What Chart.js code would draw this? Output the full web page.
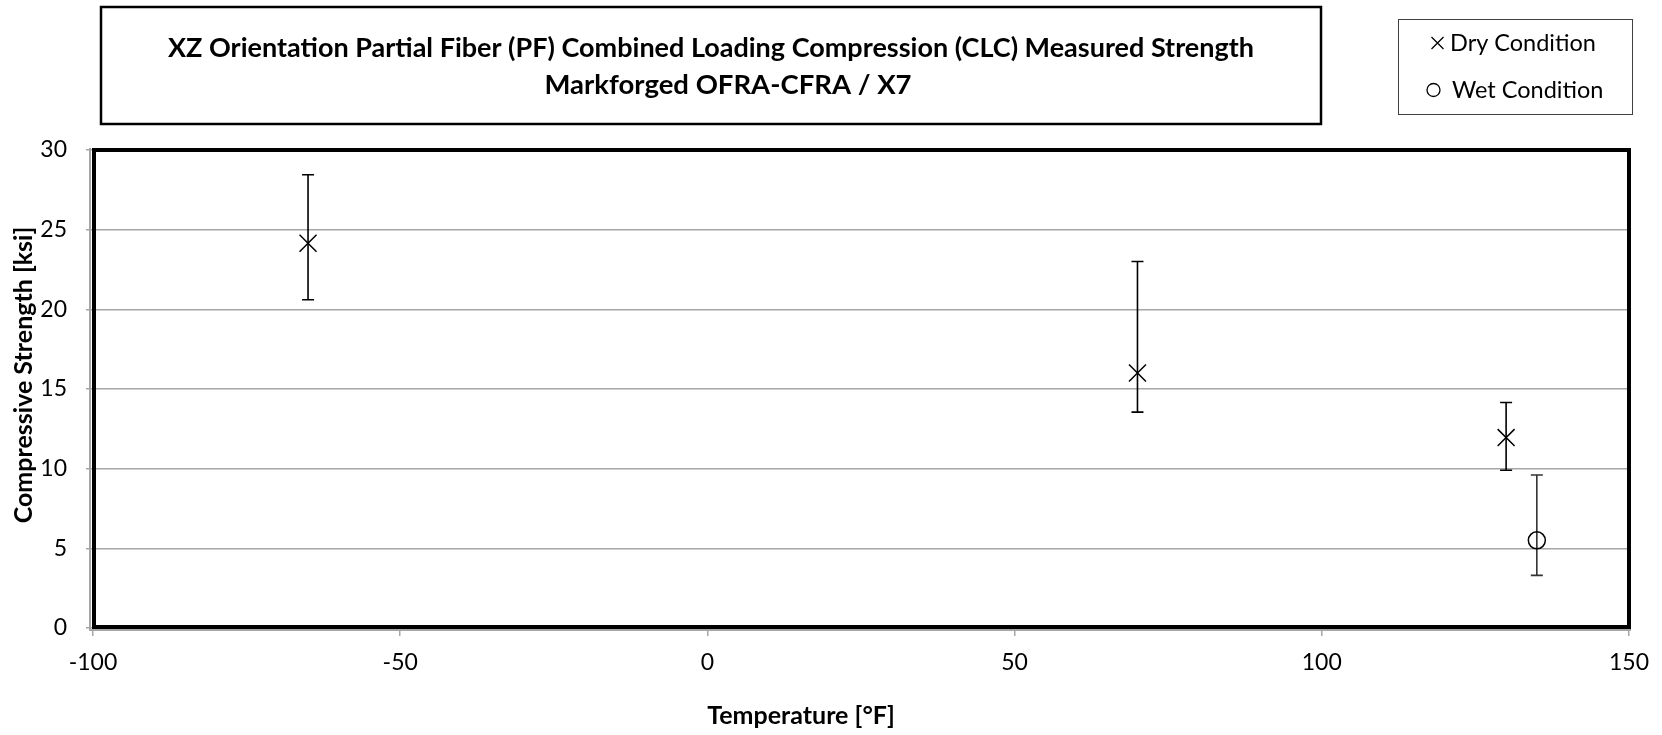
<!DOCTYPE html>
<html>
<head>
<meta charset="utf-8">
<script src="https://cdn.jsdelivr.net/npm/chart.js@4.4.1/dist/chart.umd.min.js"></script>
<style>
  body { margin: 0; background: #fff; }
  #wrap { width: 1662px; height: 735px; position: relative; }
</style>
</head>
<body>
<div id="wrap"><canvas id="chart"></canvas></div>
<script>
// chart text
const titleLines = [
  "XZ Orientation Partial Fiber (PF) Combined Loading Compression (CLC) Measured Strength",
  "Markforged OFRA-CFRA / X7"
];
const seriesNames = ["Dry Condition", "Wet Condition"];
const xTitle = "Temperature [°F]";
const yTitle = "Compressive Strength [ksi]";

// dry condition: temperature, mean strength, error bar ends
const dryTemp = [-65, 70, 130];
const dryMean = [24.15, 16.0, 11.95];
const dryLow = [20.6, 13.55, 9.9];
const dryHigh = [28.45, 23.0, 14.15];

// wet condition
const wetTemp = [135];
const wetMean = [5.5];
const wetLow = [3.3];
const wetHigh = [9.6];

// axis ticks
const xTicks = [-100, -50, 0, 50, 100, 150];
const yTicks = [0, 5, 10, 15, 20, 25, 30];

const FONT = "Lato";
const GRID = "#a6a6a6";

Chart.defaults.color = "#000";
Chart.defaults.font.family = FONT;

const toPoints = (xs, ys) => xs.map((x, i) => ({ x: x, y: ys[i] }));

// vertical error bars with caps, drawn under the markers
const errorBars = {
  id: "errorBars",
  beforeDatasetsDraw(chart) {
    const ctx = chart.ctx;
    const xs = chart.scales.x;
    const ys = chart.scales.y;
    chart.data.datasets.forEach((ds) => {
      if (!ds.errLow) return;
      ctx.save();
      ctx.strokeStyle = ds.errColor || "#000";
      ctx.lineWidth = 1.6;
      ds.data.forEach((p, i) => {
        const px = xs.getPixelForValue(p.x);
        const top = ys.getPixelForValue(ds.errHigh[i]);
        const bot = ys.getPixelForValue(ds.errLow[i]);
        ctx.beginPath();
        ctx.moveTo(px, top);
        ctx.lineTo(px, bot);
        ctx.moveTo(px - 6, top);
        ctx.lineTo(px + 6, top);
        ctx.moveTo(px - 6, bot);
        ctx.lineTo(px + 6, bot);
        ctx.stroke();
      });
      ctx.restore();
    });
  }
};

// plot frame, title box, legend box and axis titles
const decor = {
  id: "decor",
  afterDraw(chart) {
    const ctx = chart.ctx;
    const a = chart.chartArea;
    ctx.save();

    // grey axis lines just outside the frame
    ctx.strokeStyle = GRID;
    ctx.lineWidth = 2;
    ctx.beginPath();
    ctx.moveTo(a.left - 3, a.top - 2);
    ctx.lineTo(a.left - 3, a.bottom + 2);
    ctx.lineTo(a.right + 2, a.bottom + 2);
    ctx.stroke();

    // thick black frame around the plot area
    ctx.strokeStyle = "#000";
    ctx.lineWidth = 4;
    ctx.strokeRect(a.left + 1, a.top, a.right - a.left - 1, a.bottom - 1 - a.top);

    // title box
    ctx.lineWidth = 2.5;
    ctx.strokeRect(101, 7, 1220, 117);
    ctx.fillStyle = "#000";
    ctx.textAlign = "center";
    ctx.textBaseline = "middle";
    ctx.font = "bold 27px " + FONT;
    ctx.fillText(titleLines[0], 711, 48);
    ctx.font = "bold 27.5px " + FONT;
    ctx.fillText(titleLines[1], 728, 85);

    // legend box
    ctx.lineWidth = 1;
    ctx.strokeStyle = "#404040";
    ctx.strokeRect(1398.5, 19.5, 234, 95);
    ctx.strokeStyle = "#000";
    ctx.lineWidth = 1.3;
    ctx.beginPath();
    ctx.moveTo(1431.5, 37);
    ctx.lineTo(1443.5, 49);
    ctx.moveTo(1443.5, 37);
    ctx.lineTo(1431.5, 49);
    ctx.stroke();
    ctx.beginPath();
    ctx.arc(1433.5, 90, 6.5, 0, Math.PI * 2);
    ctx.stroke();
    ctx.textAlign = "left";
    ctx.font = "23.5px " + FONT;
    ctx.fillText(seriesNames[0], 1450, 43);
    ctx.fillText(seriesNames[1], 1452, 90);

    // axis titles
    ctx.font = "bold 25px " + FONT;
    ctx.textAlign = "center";
    ctx.fillText(xTitle, 801, 716);
    ctx.translate(24, 375);
    ctx.rotate(-Math.PI / 2);
    ctx.fillText(yTitle, 0, 0);

    ctx.restore();
  }
};

new Chart(document.getElementById("chart"), {
  type: "scatter",
  data: {
    datasets: [
      {
        label: seriesNames[0],
        data: toPoints(dryTemp, dryMean),
        errLow: dryLow,
        errHigh: dryHigh,
        errColor: "#000",
        pointStyle: "crossRot",
        pointRadius: 12,
        pointHoverRadius: 12,
        borderColor: "#000",
        backgroundColor: "#000",
        pointBorderWidth: 1.5
      },
      {
        label: seriesNames[1],
        data: toPoints(wetTemp, wetMean),
        errLow: wetLow,
        errHigh: wetHigh,
        errColor: "#333",
        pointStyle: "circle",
        pointRadius: 8.5,
        pointHoverRadius: 8.5,
        borderColor: "#000",
        backgroundColor: "rgba(0,0,0,0)",
        pointBorderWidth: 1.5
      }
    ]
  },
  options: {
    responsive: true,
    maintainAspectRatio: false,
    animation: false,
    layout: { padding: { left: 0, top: 150, right: 33, bottom: 0 } },
    plugins: {
      legend: { display: false },
      title: { display: false },
      tooltip: { enabled: false }
    },
    scales: {
      x: {
        type: "linear",
        min: xTicks[0],
        max: xTicks[xTicks.length - 1],
        afterBuildTicks: (s) => { s.ticks = xTicks.map((v) => ({ value: v })); },
        afterFit: (s) => { s.height = 107; },
        grid: { drawOnChartArea: false, tickLength: 8, color: GRID, lineWidth: 1.5 },
        border: { display: false },
        ticks: { font: { size: 23 }, padding: 13, maxRotation: 0 }
      },
      y: {
        min: yTicks[0],
        max: yTicks[yTicks.length - 1],
        afterBuildTicks: (s) => { s.ticks = yTicks.map((v) => ({ value: v })); },
        afterFit: (s) => { s.width = 93; },
        grid: { color: GRID, lineWidth: 1.5, tickLength: 7 },
        border: { display: false },
        ticks: { font: { size: 23 }, padding: 19 }
      }
    }
  },
  plugins: [errorBars, decor]
});
</script>
</body>
</html>
